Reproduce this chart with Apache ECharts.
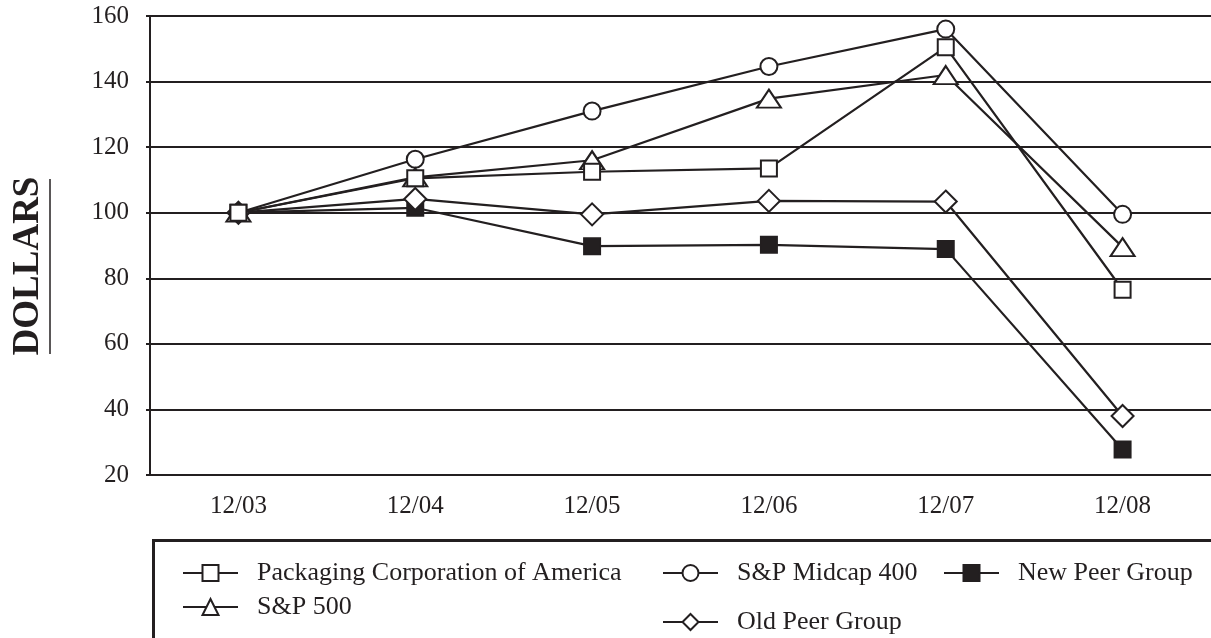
<!DOCTYPE html>
<html><head><meta charset="utf-8">
<script src="https://cdn.jsdelivr.net/npm/echarts@6/dist/echarts.min.js"></script>
<style>html,body{margin:0;padding:0;background:#fff}#c{width:1211px;height:638px}</style>
</head><body><div id="c"></div>
<script>
const categories = ['12/03','12/04','12/05','12/06','12/07','12/08'];
const pca     = [100, 110.5, 112.5, 113.5, 150.5, 76.5];
const sp500   = [100, 110.8, 116.0, 134.8, 142.0, 89.5];
const midcap  = [100, 116.3, 131.0, 144.6, 156.0, 99.5];
const oldPeer = [100, 104.2, 99.5, 103.6, 103.4, 38.0];
const newPeer = [100, 101.5, 89.8, 90.2, 88.9, 27.8];
const yTicks = {min: 20, max: 160, interval: 20};

const INK = '#231f20';
const FONT = '"Liberation Serif", "Times New Roman", serif';
const chart = echarts.init(document.getElementById('c'));

function mk(name, data, symbol, size, filled) {
  return {
    name, type: 'line', data, symbol, symbolSize: size,
    showAllSymbol: true,
    lineStyle: {color: INK, width: 2.2},
    itemStyle: {color: filled ? INK : '#fff', borderColor: INK, borderWidth: 2},
    emphasis: {disabled: true}, animation: false
  };
}
function leg(name, left, top) {
  return {
    data: [name], left, top, orient: 'horizontal',
    itemWidth: 55, itemHeight: 20,
    textStyle: {fontFamily: FONT, fontSize: 26, color: INK, padding: [0,0,0,14]},
    selectedMode: false
  };
}
chart.setOption({
  backgroundColor: '#fff',
  animation: false,
  grid: {left: 150, top: 16, bottom: 163, right: -9},
  xAxis: {
    type: 'category', data: categories, boundaryGap: true,
    axisLine: {lineStyle: {color: INK, width: 2}},
    axisTick: {alignWithLabel: true, length: 9, lineStyle: {color: INK, width: 2}},
    axisLabel: {fontFamily: FONT, fontSize: 25, color: INK, margin: 19},
    splitLine: {show: false}
  },
  yAxis: {
    type: 'value', min: yTicks.min, max: yTicks.max, interval: yTicks.interval,
    axisLine: {show: true, lineStyle: {color: INK, width: 2}},
    axisTick: {show: true, length: 4, lineStyle: {color: INK, width: 2}},
    axisLabel: {fontFamily: FONT, fontSize: 25, color: INK, margin: 21},
    splitLine: {lineStyle: {color: INK, width: 2}}
  },
  legend: [
    leg('Packaging Corporation of America', 177, 555),
    leg('S&P Midcap 400', 657, 555),
    leg('New Peer Group', 938, 555),
    leg('S&P 500', 177, 589),
    leg('Old Peer Group', 657, 604)
  ],
  graphic: [
    {type: 'rect', left: 151, top: 538, shape: {width: 1100, height: 150},
     style: {fill: 'none', stroke: INK, lineWidth: 3}, silent: true},
    {type: 'text', x: 28, y: 266, rotation: Math.PI / 2,
     style: {text: 'DOLLARS', font: 'bold 37px ' + FONT, fill: INK, align: 'center', verticalAlign: 'middle'}},
    {type: 'line', shape: {x1: 50, y1: 179, x2: 50, y2: 354}, style: {stroke: INK, lineWidth: 1.5}}
  ],
  series: [
    mk('New Peer Group', newPeer, 'rect', 16, true),
    mk('Old Peer Group', oldPeer, 'diamond', 22, false),
    mk('S&P Midcap 400', midcap, 'circle', 17, false),
    mk('S&P 500', sp500, 'triangle', [24, 18], false),
    mk('Packaging Corporation of America', pca, 'rect', 16, false)
  ]
});
</script></body></html>
